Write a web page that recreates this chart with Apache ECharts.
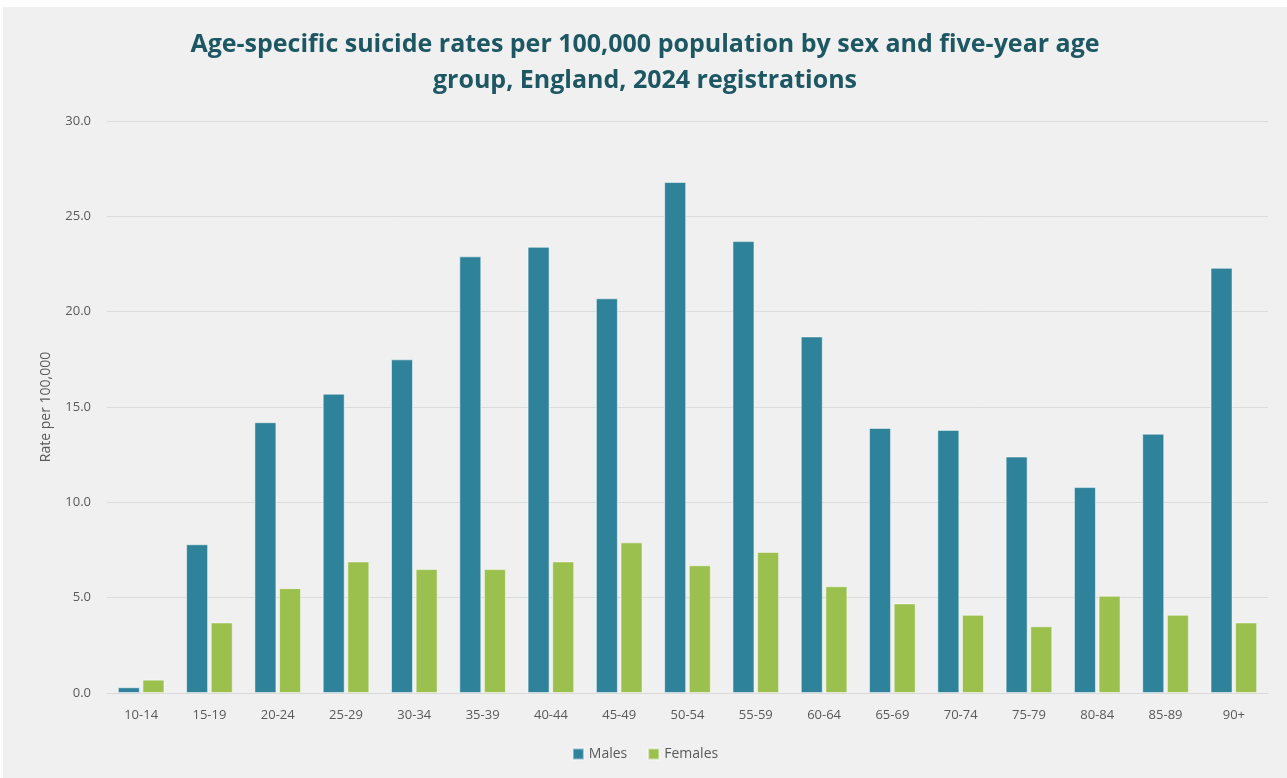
<html lang="en">
<head>
  <meta charset="UTF-8">
  <title>suicide rates chart</title>
  <style>
    html, body { margin: 0; padding: 0; background: #ffffff; }
    #main { position: absolute; left: 3px; top: 7px; width: 1284px; height: 771px; background: #f0f0f0; }
  </style>
</head>
<body>
  <div id="main"></div>

  <script src="https://cdn.jsdelivr.net/npm/echarts@6/dist/echarts.min.js"></script>
  <script>
    var ageGroups = ['10-14', '15-19', '20-24', '25-29', '30-34', '35-39', '40-44', '45-49',
      '50-54', '55-59', '60-64', '65-69', '70-74', '75-79', '80-84', '85-89', '90+']
    var males = [0.3, 7.8, 14.2, 15.7, 17.5, 22.9, 23.4, 20.7, 26.8, 23.7, 18.7, 13.9, 13.8, 12.4, 10.8, 13.6, 22.3]
    var females = [0.7, 3.7, 5.5, 6.9, 6.5, 6.5, 6.9, 7.9, 6.7, 7.4, 5.6, 4.7, 4.1, 3.5, 5.1, 4.1, 3.7]

    var font = '"Open Sans", sans-serif'
    var chart = echarts.init(document.getElementById('main'))
    chart.setOption({
      animation: false,
      color: ['#2e8299', '#9bc04e'],
      title: {
        text: 'Age-specific suicide rates per 100,000 population by sex and five-year age\ngroup, England, 2024 registrations',
        left: 'center',
        top: 15,
        textStyle: {
          color: '#1d5763',
          fontFamily: font,
          fontWeight: 'bold',
          fontSize: 25,
          lineHeight: 36
        }
      },
      legend: {
        bottom: 12,
        left: 'center',
        itemWidth: 11,
        itemHeight: 11,
        itemGap: 20,
        icon: 'rect',
        textStyle: { color: '#595959', fontFamily: font, fontSize: 14 },
        data: ['Males', 'Females']
      },
      grid: {
        left: 104,
        right: 19,
        top: 114,
        bottom: 85
      },
      xAxis: {
        type: 'category',
        data: ageGroups,
        axisTick: { show: false },
        axisLine: { lineStyle: { color: '#d9d9d9' } },
        axisLabel: { color: '#595959', fontFamily: font, fontSize: 13, margin: 16 }
      },
      yAxis: {
        type: 'value',
        min: 0,
        max: 30,
        interval: 5,
        name: 'Rate per 100,000',
        nameLocation: 'middle',
        nameGap: 54,
        nameTextStyle: { color: '#595959', fontFamily: font, fontSize: 14 },
        axisLabel: {
          color: '#595959', fontFamily: font, fontSize: 13, margin: 16,
          formatter: function (v) { return v.toFixed(1) }
        },
        splitLine: { lineStyle: { color: '#dcdcdc' } }
      },
      series: [
        {
          name: 'Males',
          type: 'bar',
          data: males,
          barWidth: 22,
          barGap: '12%',
          itemStyle: { borderColor: 'rgba(255,255,255,0.5)', borderWidth: 1 }
        },
        {
          name: 'Females',
          type: 'bar',
          data: females,
          barWidth: 22,
          itemStyle: { borderColor: 'rgba(255,255,255,0.5)', borderWidth: 1 }
        }
      ]
    })
  </script>
</body>
</html>
